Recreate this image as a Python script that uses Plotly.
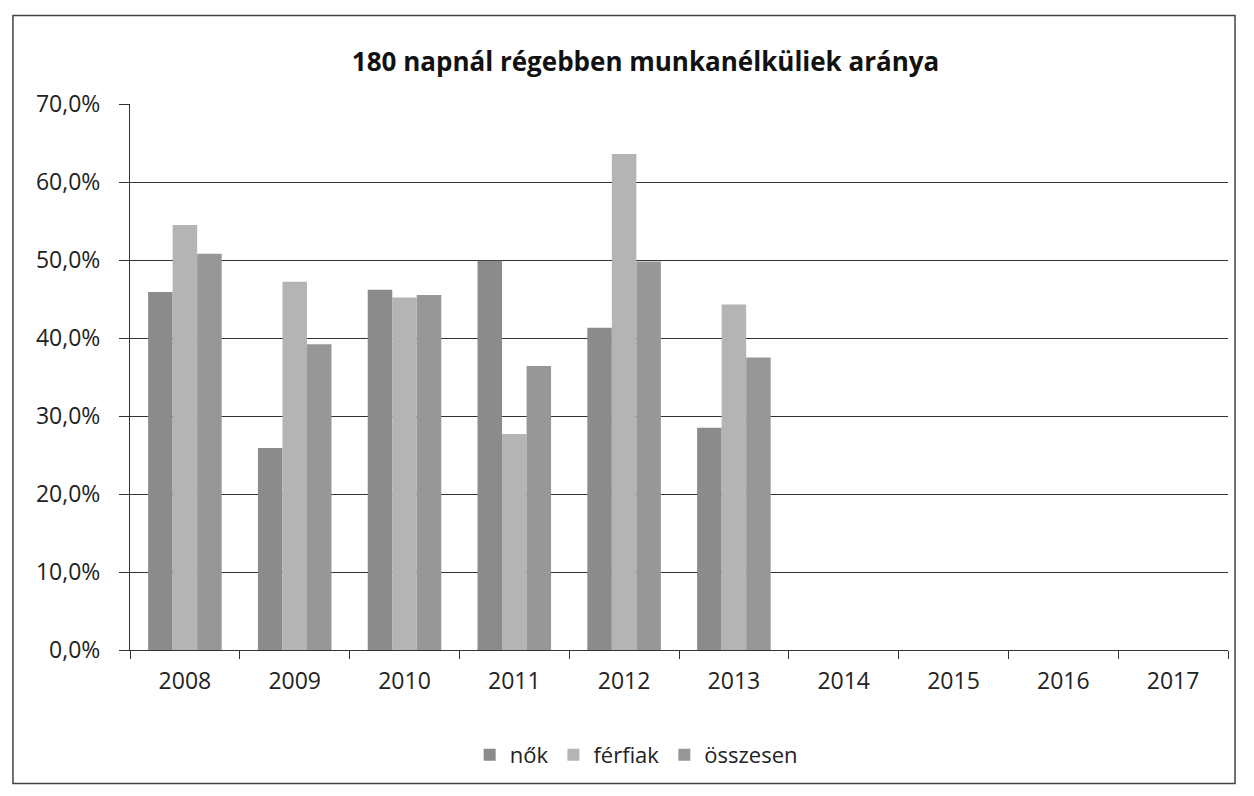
import plotly.graph_objects as go

# adatok
evek = ["2008", "2009", "2010", "2011", "2012", "2013", "2014", "2015", "2016", "2017"]
nok = [0.459, 0.259, 0.462, 0.499, 0.413, 0.285, None, None, None, None]
ferfiak = [0.545, 0.472, 0.452, 0.277, 0.636, 0.443, None, None, None, None]
osszesen = [0.508, 0.392, 0.455, 0.364, 0.498, 0.375, None, None, None, None]

fig = go.Figure()
fig.add_trace(go.Bar(x=evek, y=nok, name="nők", marker=dict(color="#8b8b8b", line=dict(width=0))))
fig.add_trace(go.Bar(x=evek, y=ferfiak, name="férfiak", marker=dict(color="#b4b4b4", line=dict(width=0))))
fig.add_trace(go.Bar(x=evek, y=osszesen, name="összesen", marker=dict(color="#979797", line=dict(width=0))))

# az oldal 8px-es body margót tesz köré, ezért kisebb a méret
fig.update_layout(
    width=1238, height=780,
    paper_bgcolor="white", plot_bgcolor="white",
    margin=dict(l=122, r=18, t=96, b=136),
    separators=",.",
    barmode="group", bargap=0.33, bargroupgap=0,
    font=dict(family="Open Sans, Noto Sans, sans-serif", size=22, color="#222"),
    title=dict(text="<b>180 napnál régebben munkanélküliek aránya</b>",
               x=0.515, xanchor="center", y=0.931, yanchor="middle",
               font=dict(size=26, color="#111")),
    legend=dict(orientation="h", x=0.461, xanchor="center", y=-0.192, yanchor="middle",
                font=dict(size=22), itemwidth=30, traceorder="normal"),
    showlegend=True,
)

fig.update_xaxes(
    type="category", tickson="boundaries", ticks="outside", ticklen=8,
    tickcolor="#333", showline=True, linecolor="#333", linewidth=1,
    showgrid=False, tickfont=dict(size=23), ticklabelstandoff=10,
)
fig.update_yaxes(
    range=[0, 0.7], dtick=0.1, tickformat=".1%", ticks="outside", ticklen=10,
    tickcolor="#333", showline=True, linecolor="#333", linewidth=1,
    showgrid=True, gridcolor="#333", gridwidth=1, zeroline=False,
    tickfont=dict(size=23), ticklabelstandoff=14,
)

# külső keret
fig.add_shape(type="rect", xref="paper", yref="paper",
              x0=-0.1066, x1=1.0064, y0=-0.2445, y1=1.162,
              line=dict(color="#444", width=1.5), fillcolor="rgba(0,0,0,0)")

fig.write_html("out.html")
